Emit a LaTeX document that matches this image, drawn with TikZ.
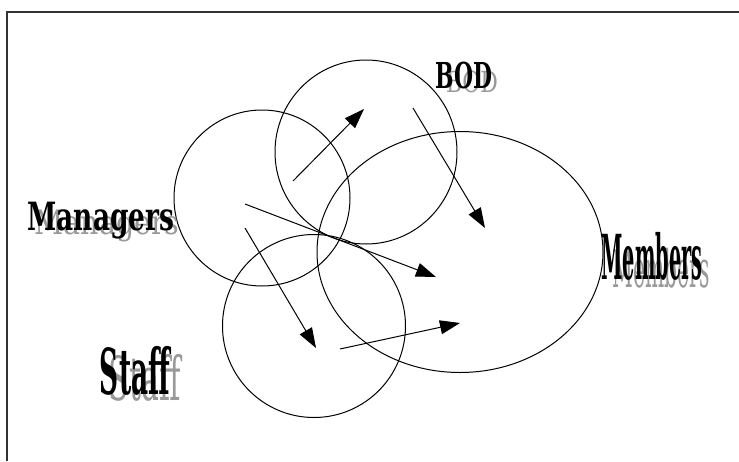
\documentclass[tikz,border=0pt]{standalone}
\usepackage{fontspec}
\usepackage{tikz}
\usetikzlibrary{arrows.meta,shapes.geometric}
\newfontfamily\wordart{DejaVu Serif}

\begin{document}
\begin{tikzpicture}[x=1pt,y=-1pt,
    group/.style={draw,ellipse,line width=1pt,inner sep=0pt},
    flow/.style={-{Triangle[length=20pt,width=14pt]},line width=1pt},
    shadowtext/.style={text=black!40,inner sep=0pt},
    wordtext/.style={text=black,inner sep=0pt}]
    \useasboundingbox (0,0) rectangle (739,461);
    \draw[line width=1.4pt,black!80] (7,461) -- (7,12) -- (739,12);

    \node[group,minimum width=176pt,minimum height=176pt] (mgr) at (262,198) {};
    \node[group,minimum width=182pt,minimum height=184pt] (bod) at (366,152) {};
    \node[group,minimum width=286pt,minimum height=241pt] (mem) at (460,252) {};
    \node[group,minimum width=183pt,minimum height=183pt] (stf) at (314,326) {};

    \coordinate (mgrA) at (293,181);
    \coordinate (bodA) at (364,109);
    \coordinate (bodB) at (413,108);
    \coordinate (memA) at (485,228);
    \coordinate (mgrB) at (245,204);
    \coordinate (memB) at (436,277);
    \coordinate (mgrC) at (245,228);
    \coordinate (stfA) at (316,348);
    \coordinate (stfB) at (340,349);
    \coordinate (memC) at (460,323);

    \draw[flow] (mgrA) -- (bodA);
    \draw[flow] (bodB) -- (memA);
    \draw[flow] (mgrB) -- (memB);
    \draw[flow] (mgrC) -- (stfA);
    \draw[flow] (stfB) -- (memC);

    \node[shadowtext] (mgrS) at (107,226) {\resizebox*{145pt}{32pt}{\wordart Managers}};
    \node[wordtext] (mgrT) at (101,221) {\resizebox*{147pt}{37pt}{\wordart\bfseries Managers}};
    \node[shadowtext] (bodS) at (472,82) {\resizebox*{52pt}{22pt}{\wordart BOD}};
    \node[wordtext] (bodT) at (464,76) {\resizebox*{57pt}{27pt}{\wordart\bfseries BOD}};
    \node[shadowtext] (memS) at (661,268) {\resizebox*{97pt}{40pt}{\wordart Members}};
    \node[wordtext] (memT) at (652,256) {\resizebox*{101pt}{48pt}{\wordart\bfseries Members}};
    \node[shadowtext] (stfS) at (145,378) {\resizebox*{72pt}{47pt}{\wordart Staff}};
    \node[wordtext] (stfT) at (135,371) {\resizebox*{70pt}{49pt}{\wordart\bfseries Staff}};
\end{tikzpicture}
\end{document}
